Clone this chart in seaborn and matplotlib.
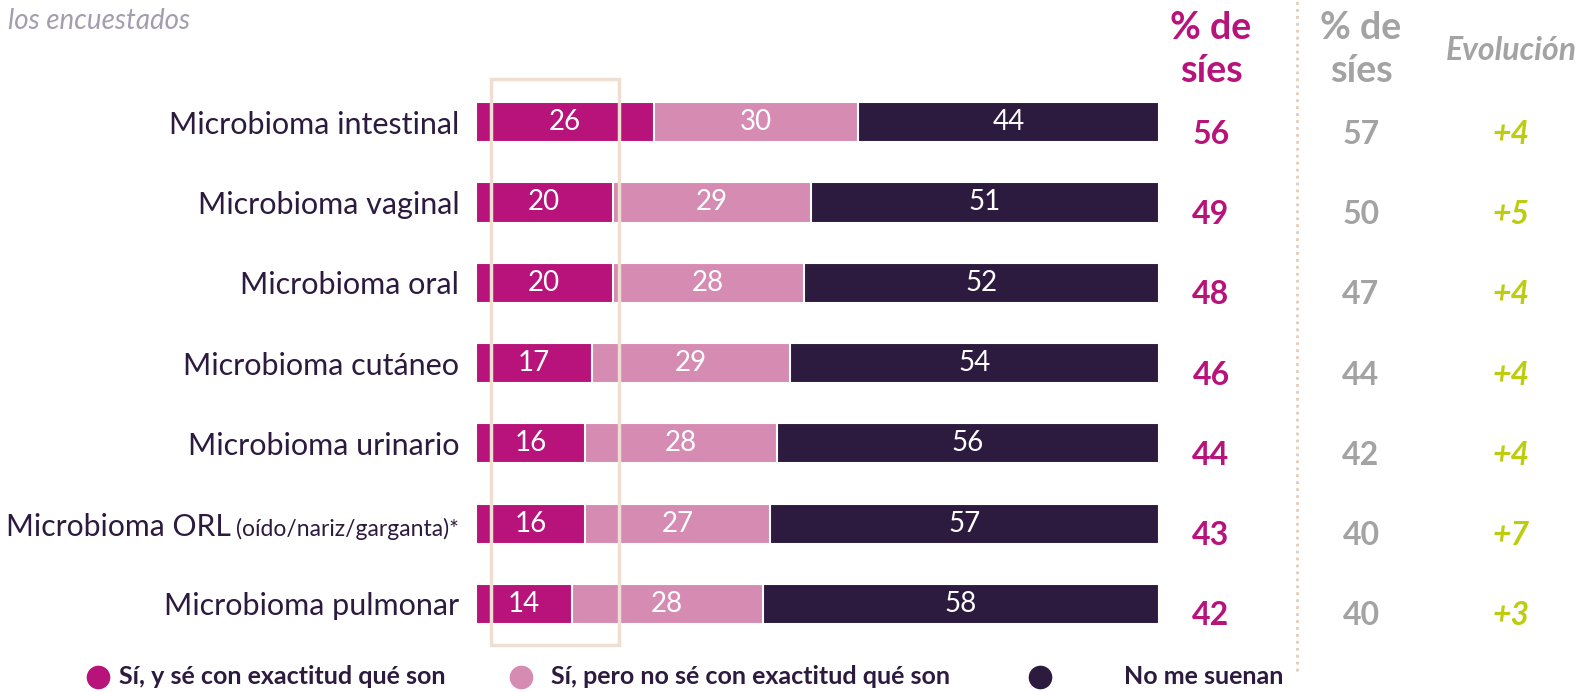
import matplotlib
matplotlib.use("Agg")
import matplotlib.pyplot as plt
import matplotlib.transforms as mtransforms
from matplotlib.lines import Line2D
from matplotlib.patches import Rectangle
import seaborn as sns
import pandas as pd

categories = ["Microbioma intestinal", "Microbioma vaginal", "Microbioma oral",
              "Microbioma cutáneo", "Microbioma urinario", "Microbioma ORL",
              "Microbioma pulmonar"]
exact = [26, 20, 20, 17, 16, 16, 14]
partial = [30, 29, 28, 29, 28, 27, 28]
unknown = [44, 51, 52, 54, 56, 57, 58]
pct_yes = [56, 49, 48, 46, 44, 43, 42]
pct_yes_prev = [57, 50, 47, 44, 42, 40, 40]
evolution = ["+4", "+5", "+4", "+4", "+4", "+7", "+3"]
legend_labels = ["Sí, y sé con exactitud qué son", "Sí, pero no sé con exactitud qué son", "No me suenan"]

MAG = "#B8137A"
PINK = "#D68BB3"
DARK = "#2C1A3F"
GREY = "#A3A3A3"
GREEN = "#BCCD0E"
BEIGE = "#EEDFD2"

sns.set_theme(style="white")
plt.rcParams["font.family"] = ["Lato", "DejaVu Sans"]

W, H = 1583, 692
fig = plt.figure(figsize=(W / 100, H / 100), dpi=100)
ax_px = (476, 82, 683, 562)  # left, top, width, height in pixels
ax = fig.add_axes([ax_px[0] / W, 1 - (ax_px[1] + ax_px[3]) / H, ax_px[2] / W, ax_px[3] / H])

df = pd.DataFrame({"cat": categories, "exact": exact, "partial": partial, "unknown": unknown})
df["c1"] = df["exact"]
df["c2"] = df["exact"] + df["partial"]
df["c3"] = df["c2"] + df["unknown"]

# stacked bars: draw cumulative totals from the largest down
for col, c in [("c3", DARK), ("c2", PINK), ("c1", MAG)]:
    sns.barplot(data=df, x=col, y="cat", color=c, saturation=1, width=0.5,
                edgecolor="white", linewidth=1.5, ax=ax)

ax.set_xlim(0, 100)
ax.set_ylim(6.5, -0.5)
ax.set_xticks([])
ax.set_xlabel("")
ax.set_ylabel("")
sns.despine(ax=ax, left=True, bottom=True)
ax.tick_params(axis="y", length=0, pad=12, labelsize=22, labelcolor=DARK)
ax.set_yticks(range(len(categories)))
ax.set_yticklabels([c if c != "Microbioma ORL" else "" for c in categories])

# values inside the segments
for i in range(len(categories)):
    starts = [0, df["c1"][i], df["c2"][i]]
    for s, v in zip(starts, [exact[i], partial[i], unknown[i]]):
        ax.text(s + v / 2, i, str(v), ha="center", va="center", color="white", fontsize=20)

# ORL label in two sizes
lab_tr = mtransforms.blended_transform_factory(ax.transAxes, ax.transData)
y_orl = categories.index("Microbioma ORL")
t2 = ax.text(-17 / ax_px[2], y_orl + 0.15, "(oído/nariz/garganta)*", transform=lab_tr,
             ha="right", va="baseline", fontsize=16.5, color=DARK)
fig.canvas.draw()
bb = t2.get_window_extent()
ax.text(-17 / ax_px[2], y_orl + 0.15, "Microbioma ORL", ha="right", va="baseline", fontsize=21.7,
        color=DARK, transform=mtransforms.offset_copy(lab_tr, fig=fig, x=-(bb.width + 5), units="dots"))

# highlight box over the first segment
ax.add_patch(Rectangle((2.2, -0.54), 18.7, 7.05, fill=False, edgecolor=BEIGE, lw=2.5,
                       clip_on=False, zorder=5))

# right-hand columns
tr = mtransforms.blended_transform_factory(fig.transFigure, ax.transData)
for i in range(len(categories)):
    ax.text(1211 / W, i + 0.15, str(pct_yes[i]), transform=tr, ha="center", va="center",
            fontsize=23, fontweight="bold", color=MAG)
    ax.text(1361 / W, i + 0.15, str(pct_yes_prev[i]), transform=tr, ha="center", va="center",
            fontsize=23, fontweight="bold", color=GREY)
    ax.text(1511 / W, i + 0.15, evolution[i], transform=tr, ha="center", va="center",
            fontsize=23, fontweight="bold", fontstyle="italic", color=GREEN)

for x, c in [(1211, MAG), (1361, GREY)]:
    fig.text(x / W, 1 - 28 / H, "% de", ha="center", va="center", fontsize=27, fontweight="bold", color=c)
    fig.text(x / W, 1 - 71 / H, "síes", ha="center", va="center", fontsize=27, fontweight="bold", color=c)
fig.text(1511 / W, 1 - 51 / H, "Evolución", ha="center", va="center", fontsize=23, fontweight="bold",
         fontstyle="italic", color=GREY)

fig.add_artist(Line2D([1297 / W, 1297 / W], [1 - 671 / H, 1.0], transform=fig.transFigure,
                      color="#E6CBB6", lw=2, ls=(0, (1, 1.5))))

fig.text(8 / W, 1 - 21 / H, "los encuestados", ha="left", va="center", fontsize=20,
         fontstyle="italic", color="#A39DB0")

# legend
leg_colors = [MAG, PINK, DARK]
marker_x = [98, 521, 1040]
text_x = [119, 551, 1124]
for c, mx, tx, lab in zip(leg_colors, marker_x, text_x, legend_labels):
    fig.add_artist(Line2D([mx / W], [1 - 677 / H], transform=fig.transFigure, marker="o",
                          markersize=16, color=c, lw=0))
    fig.text(tx / W, 1 - 677 / H, lab, ha="left", va="center", fontsize=18, fontweight="bold", color=DARK)

fig.savefig("out.png", dpi=100)
